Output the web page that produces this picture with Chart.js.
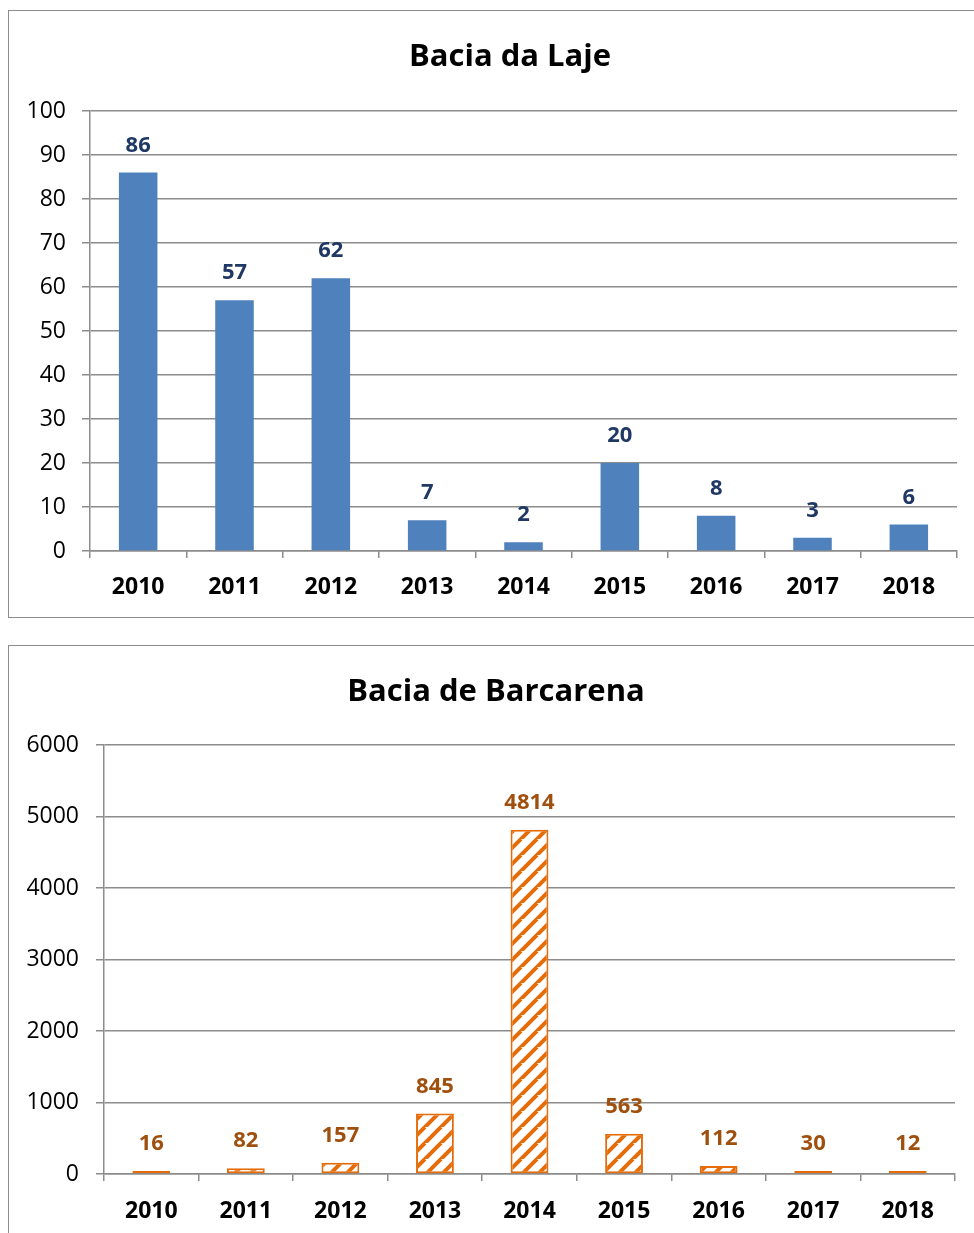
<!DOCTYPE html>
<html><head><meta charset="utf-8">
<script src="https://cdn.jsdelivr.net/npm/chart.js@4.4.1/dist/chart.umd.min.js"></script>
<style>
html,body{margin:0;padding:0;background:#fff;width:974px;height:1233px;overflow:hidden;position:relative;}
.box{position:absolute;border:1.5px solid #8c8c8c;box-sizing:border-box;}
canvas{position:absolute;}
</style></head><body>
<div class="box" style="left:8px;top:10px;width:1000px;height:608px;"></div>
<div class="box" style="left:8px;top:645px;width:1000px;height:700px;"></div>
<canvas id="c1" style="left:9px;top:12px;"></canvas>
<canvas id="c2" style="left:9px;top:647px;"></canvas>
<script>
const years = ['2010','2011','2012','2013','2014','2015','2016','2017','2018'];
const lajeValues = [86, 57, 62, 7, 2, 20, 8, 3, 6];
const barcarenaValues = [16, 82, 157, 845, 4814, 563, 112, 30, 12];
const lajeTicks = {min: 0, max: 100, step: 10};
const barcarenaTicks = {min: 0, max: 6000, step: 1000};
const lajeTitle = 'Bacia da Laje';
const barcarenaTitle = 'Bacia de Barcarena';

const FONT = '"Open Sans"';
const GRID = '#8c8c8c';

function hatch(color){
  const S = 16;
  const c = document.createElement('canvas');
  c.width = S; c.height = S;
  const g = c.getContext('2d');
  g.fillStyle = '#fff'; g.fillRect(0,0,S,S);
  g.strokeStyle = color; g.lineWidth = 4;
  g.beginPath();
  for (let k=-S; k<=2*S; k+=S){ g.moveTo(k-S, 2*S); g.lineTo(k+S, 0); }
  g.stroke();
  return g.createPattern(c,'repeat');
}

const labelPlugin = {
  id:'vlabels',
  afterDatasetsDraw(chart, args, opts){
    const ctx = chart.ctx;
    ctx.save();
    ctx.font = 'bold 22px ' + FONT;
    ctx.fillStyle = opts.color;
    ctx.textAlign = 'center';
    ctx.textBaseline = 'middle';
    const meta = chart.getDatasetMeta(0);
    meta.data.forEach((el,i)=>{
      ctx.fillText(String(chart.data.datasets[0].data[i]), el.x, el.y - 27);
    });
    // title
    ctx.font = 'bold 31px ' + FONT;
    ctx.fillStyle = '#000';
    ctx.fillText(opts.title, opts.tx, opts.ty);
    ctx.restore();
  }
};

function make(id, w, h, cfg){
  const cv = document.getElementById(id);
  cv.style.width = w+'px'; cv.style.height = h+'px';
  return new Chart(cv, {
    type:'bar',
    data:{labels: years, datasets:[{data: cfg.values, backgroundColor: cfg.fill, borderColor: cfg.border, borderWidth: cfg.bw, borderSkipped:false, minBarLength: cfg.minLen, barPercentage: 0.4, categoryPercentage: 1}]},
    options:{
      responsive:false, animation:false, devicePixelRatio:1,
      layout:{padding:{left:0, right: cfg.right, top: cfg.top, bottom:0}},
      plugins:{
        legend:{display:false}, tooltip:{enabled:false}, title:{display:false},
        vlabels:{color: cfg.labelColor, title: cfg.title, tx: cfg.tx, ty: cfg.ty}
      },
      scales:{
        x:{
          grid:{offset:true, drawOnChartArea:false, drawTicks:true, tickLength:7, color:GRID, lineWidth:1.5},
          border:{color:GRID, width:1.5},
          ticks:{color:'#000', font:{family:FONT, size:23, weight:'bold'}, padding: cfg.xpad, maxRotation:0},
          afterFit(s){ s.height = cfg.xh; }
        },
        y:{
          min: cfg.ticks.min, max: cfg.ticks.max,
          grid:{color:GRID, lineWidth:1.5, tickLength:8},
          border:{color:GRID, width:1.5},
          ticks:{stepSize: cfg.ticks.step, color:'#000', font:{family:FONT, size:23}, padding: cfg.ypad, callback: v => String(v)},
          afterFit(s){ s.width = cfg.yw; }
        }
      }
    },
    plugins:[labelPlugin]
  });
}

make('c1', 965, 604, {
  values: lajeValues, fill:'#4F81BD', border:'#4F81BD', bw:0, minLen:0, title: lajeTitle, tx: 501, ty: 45,
  labelColor:'#1F3864', ticks: lajeTicks, right:17, top:99, xh:65, yw:81, ypad:16, xpad:16
});
make('c2', 965, 586, {
  values: barcarenaValues, fill: hatch('#E46C0A'), border:'#E46C0A', bw:2, minLen:3, title: barcarenaTitle, tx: 487, ty: 45,
  labelColor:'#A0500E', ticks: barcarenaTicks, right:19, top:98, xh:59, yw:95, ypad:17, xpad:17
});
</script>
</body></html>
